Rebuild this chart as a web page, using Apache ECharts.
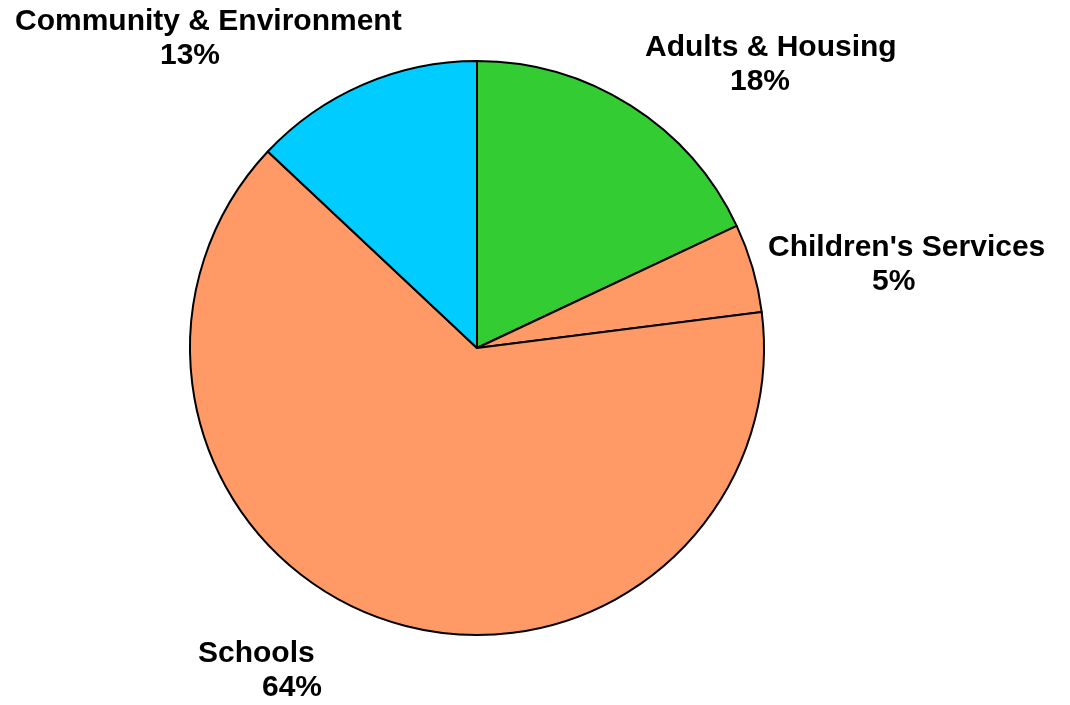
<!DOCTYPE html>
<html>
<head>
<meta charset="utf-8">
<title>Spending by service area</title>
<script src="https://cdn.jsdelivr.net/npm/echarts@6/dist/echarts.min.js"></script>
<style>
  html, body { margin: 0; padding: 0; background: #ffffff; }
  #chart { width: 1070px; height: 705px; }
</style>
</head>
<body>
<div id="chart"></div>
<script>
// Service areas, clockwise from twelve o'clock
const categories = ['Adults & Housing', "Children's Services", 'Schools', 'Community & Environment'];
// Share of spending (%)
const values = [18, 5, 64, 13];
const colors = ['#33cc33', '#ff9966', '#ff9966', '#00ccff'];

// Label placement: top-left corner of each label block, and indent of the percentage line
const labelAnchors = [[645, 31], [768, 231], [198, 637], [15, 5]];
const pctIndent = [85, 104, 64, 145];

const font = { fontFamily: '"Liberation Sans", Arial, sans-serif', fontWeight: 'bold', fontSize: 30, lineHeight: 34, color: '#000' };

const chart = echarts.init(document.getElementById('chart'), null, { renderer: 'canvas' });

chart.setOption({
  backgroundColor: '#ffffff',
  animation: false,
  series: [{
    type: 'pie',
    center: [477, 348],
    radius: 287,
    startAngle: 90,
    clockwise: true,
    percentPrecision: 0,
    itemStyle: { borderColor: '#000000', borderWidth: 2 },
    emphasis: { disabled: true },
    labelLine: { show: false },
    label: {
      show: true,
      position: 'outside',
      overflow: 'none',
      width: 600,
      formatter: '{n|{b}}\n{p|{d}%}',
      rich: {
        n: Object.assign({ align: 'left' }, font),
        p: Object.assign({ align: 'left' }, font)
      }
    },
    labelLayout: function (params) {
      const a = labelAnchors[params.dataIndex];
      return { x: a[0], y: a[1], align: 'left', verticalAlign: 'top' };
    },
    data: categories.map(function (name, i) {
      return {
        name: name,
        value: values[i],
        itemStyle: { color: colors[i] },
        label: { rich: { p: { padding: [0, 0, 0, pctIndent[i]] } } }
      };
    })
  }]
});
</script>
</body>
</html>
